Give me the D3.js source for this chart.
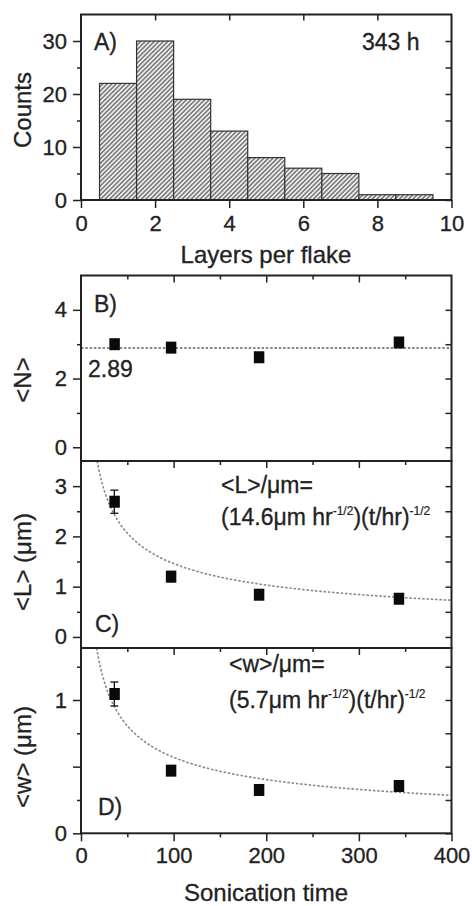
<!DOCTYPE html>
<html><head><meta charset="utf-8">
<script src="https://cdn.jsdelivr.net/npm/d3@7"></script>
<style>
html,body{margin:0;padding:0;background:#fff;}
svg{display:block;font-family:"Liberation Sans",Arial,sans-serif;}
</style></head>
<body>
<svg id="c" width="472" height="906"></svg>
<script>
// ---------- data ----------
const layerCenters = [1, 2, 3, 4, 5, 6, 7, 8, 9];
const layerCounts  = [22, 30, 19, 13, 8, 6, 5, 1, 1];
const countTicks   = [0, 10, 20, 30];
const layerTicks   = [0, 2, 4, 6, 8, 10];

const times   = [36, 97, 192, 343];
const meanN   = [3.0, 2.9, 2.62, 3.05];
const errN    = [0.07, 0.07, 0.07, 0.07];
const meanL   = [2.69, 1.2, 0.84, 0.76];
const errL    = [0.23, 0.1, 0.05, 0.05];
const meanW   = [1.045, 0.47, 0.325, 0.355];
const errW    = [0.09, 0.035, 0.02, 0.02];
const avgN    = 2.89;
const coefL   = 14.6;
const coefW   = 5.7;
const timeTicks = [0, 100, 200, 300, 400];
const nTicks  = [0, 2, 4];
const lTicks  = [0, 1, 2, 3];
const wTicks  = [0, 1];

// ---------- layout ----------
const svg = d3.select("#c");
const X0 = 81, X1 = 451.5;
const ink = "#222";
const defs = svg.append("defs");
const pat = defs.append("pattern").attr("id","hatch").attr("patternUnits","userSpaceOnUse")
  .attr("width",3.2).attr("height",3.2).attr("patternTransform","rotate(45)");
pat.append("rect").attr("width",3.2).attr("height",3.2).attr("fill","#eeeeee");
pat.append("line").attr("x1",0.8).attr("y1",0).attr("x2",0.8).attr("y2",3.2)
  .attr("stroke","#4a4a4a").attr("stroke-width",1.1);

function styleAxis(g, labels){
  g.select(".domain").remove();
  g.selectAll(".tick line").attr("stroke",ink).attr("stroke-width",1.5);
  g.selectAll(".tick text").attr("fill",ink).attr("font-size",22)
    .attr("stroke",ink).attr("stroke-width",0.3)
    .attr("font-family","'Liberation Sans',Arial,sans-serif");
  if(!labels) g.selectAll(".tick text").remove();
}
function frame(top, bottom){
  svg.append("rect").attr("x",X0).attr("y",top).attr("width",X1-X0).attr("height",bottom-top)
    .attr("fill","none").attr("stroke",ink).attr("stroke-width",2);
}
function yAxes(y, major, minor, labelVals){
  const l1 = svg.append("g").attr("transform",`translate(${X0},0)`)
    .call(d3.axisLeft(y).tickValues(major).tickSize(8).tickPadding(6)
      .tickFormat(d => labelVals.includes(d) ? d3.format("")(d) : ""));
  styleAxis(l1,true);
  const l2 = svg.append("g").attr("transform",`translate(${X0},0)`)
    .call(d3.axisLeft(y).tickValues(minor).tickSize(4));
  styleAxis(l2,false);
  const r1 = svg.append("g").attr("transform",`translate(${X1},0)`)
    .call(d3.axisLeft(y).tickValues(major.concat(minor)).tickSize(6));
  styleAxis(r1,false);
}
function txt(x,y,s,size,anchor){
  return svg.append("text").attr("x",x).attr("y",y).attr("font-size",size||23)
    .attr("fill",ink).attr("stroke",ink).attr("stroke-width",0.3)
    .attr("text-anchor",anchor||"start").text(s);
}
function ylabel(x,y,s){
  svg.append("text").attr("transform",`translate(${x},${y}) rotate(-90)`)
    .attr("text-anchor","middle").attr("font-size",24).attr("fill",ink)
    .attr("stroke",ink).attr("stroke-width",0.3).text(s);
}

// ---------- Panel A ----------
const xA = d3.scaleLinear().domain([0,10]).range([X0,X1]);
const yA = d3.scaleLinear().domain([0,35]).range([200,14.5]);
svg.append("g").selectAll("rect").data(layerCenters).join("rect")
  .attr("x", d => xA(d-0.5)).attr("width", d => xA(d+0.5)-xA(d-0.5))
  .attr("y", (d,i) => yA(layerCounts[i])).attr("height", (d,i) => yA(0)-yA(layerCounts[i]))
  .attr("fill","url(#hatch)").attr("stroke","#333").attr("stroke-width",1.2);
frame(yA(35), yA(0));
yAxes(yA, countTicks, [5,15,25], countTicks);
const bA = svg.append("g").attr("transform",`translate(0,${yA(0)})`)
  .call(d3.axisBottom(xA).tickValues(layerTicks).tickSize(8).tickPadding(7).tickFormat(d3.format("")));
styleAxis(bA,true);
const tA = svg.append("g").attr("transform",`translate(0,${yA(35)})`)
  .call(d3.axisBottom(xA).tickValues([2,4,6,8]).tickSize(6));
styleAxis(tA,false);

txt(94,50,"A)");
txt(362,50,"343 h");
txt(266,263,"Layers per flake",24,"middle");
ylabel(31,110,"Counts");

// ---------- shared time scale ----------
const xT = d3.scaleLinear().domain([0,400]).range([X0,X1]);
function topTicks(yPix){
  const g1 = svg.append("g").attr("transform",`translate(0,${yPix})`)
    .call(d3.axisBottom(xT).tickValues([100,200,300]).tickSize(7));
  styleAxis(g1,false);
  const g2 = svg.append("g").attr("transform",`translate(0,${yPix})`)
    .call(d3.axisBottom(xT).tickValues([50,150,250,350]).tickSize(4));
  styleAxis(g2,false);
}
function points(y, vals, errs){
  const g = svg.append("g");
  times.forEach((t,i) => {
    const cx = xT(t);
    g.append("line").attr("x1",cx).attr("x2",cx).attr("y1",y(vals[i]-errs[i])).attr("y2",y(vals[i]+errs[i]))
      .attr("stroke","#111").attr("stroke-width",1.3);
    [vals[i]-errs[i], vals[i]+errs[i]].forEach(v => g.append("line")
      .attr("x1",cx-4).attr("x2",cx+4).attr("y1",y(v)).attr("y2",y(v))
      .attr("stroke","#111").attr("stroke-width",1.3));
    g.append("rect").attr("x",cx-5).attr("y",y(vals[i])-6).attr("width",10.5).attr("height",12)
      .attr("fill","#0a0a0a");
  });
}
function fitCurve(y, coef, yTop){
  const tStart = Math.pow(coef / y.invert(yTop), 2);
  const ts = d3.range(tStart, 400.01, 2);
  svg.append("path").datum(ts)
    .attr("d", d3.line().x(t => xT(t)).y(t => y(coef/Math.sqrt(t))))
    .attr("fill","none").attr("stroke","#888").attr("stroke-width",1.6)
    .attr("stroke-dasharray","2.5,1.8");
}
function formula(x, y, coefText){
  const t = txt(x, y, "(" + coefText + "\u03bcm hr");
  t.append("tspan").attr("font-size",12).attr("stroke-width",0.2).attr("dy",-10).text("-1/2");
  t.append("tspan").attr("dy",10).text(")(t/hr)");
  t.append("tspan").attr("font-size",12).attr("stroke-width",0.2).attr("dy",-10).text("-1/2");
}

// ---------- Panel B ----------
const yB = d3.scaleLinear().domain([-0.4,5]).range([461,275.5]);
svg.append("line").attr("x1",X0).attr("x2",X1).attr("y1",yB(avgN)).attr("y2",yB(avgN))
  .attr("stroke","#888").attr("stroke-width",1.8).attr("stroke-dasharray","2.5,1.8");
points(yB, meanN, errN);
frame(yB(5), yB(-0.4));
yAxes(yB, nTicks, [1,3], nTicks);
topTicks(yB(5));
txt(94,312,"B)");
txt(88,377,"2.89");
ylabel(31,380,"<N>");

// ---------- Panel C ----------
const yC = d3.scaleLinear().domain([-0.22,3.5]).range([648,461]);
fitCurve(yC, coefL, 461);
points(yC, meanL, errL);
frame(yC(3.5), yC(-0.22));
yAxes(yC, lTicks, [0.5,1.5,2.5], lTicks);
topTicks(yC(3.5));
txt(95,632,"C)");
txt(221,493,"<L>/\u03bcm=");
formula(221, 525, "14.6");
ylabel(31,562,"<L> (\u03bcm)");

// ---------- Panel D ----------
const yD = d3.scaleLinear().domain([0,1.39]).range([833.3,648]);
fitCurve(yD, coefW, 648);
points(yD, meanW, errW);
frame(yD(1.39), yD(0));
yAxes(yD, [0,0.5,1], [0.25,0.75,1.25], wTicks);
topTicks(yD(1.39));
const bD = svg.append("g").attr("transform",`translate(0,${yD(0)})`)
  .call(d3.axisBottom(xT).tickValues(timeTicks).tickSize(8).tickPadding(6).tickFormat(d3.format("")));
styleAxis(bD,true);
const bD2 = svg.append("g").attr("transform",`translate(0,${yD(0)})`)
  .call(d3.axisBottom(xT).tickValues([50,150,250,350]).tickSize(4));
styleAxis(bD2,false);
txt(98,815,"D)");
txt(229,672,"<w>/\u03bcm=");
formula(229, 708, "5.7");
ylabel(31,757,"<w> (\u03bcm)");
txt(266,901,"Sonication time",24,"middle");
</script>
</body></html>
